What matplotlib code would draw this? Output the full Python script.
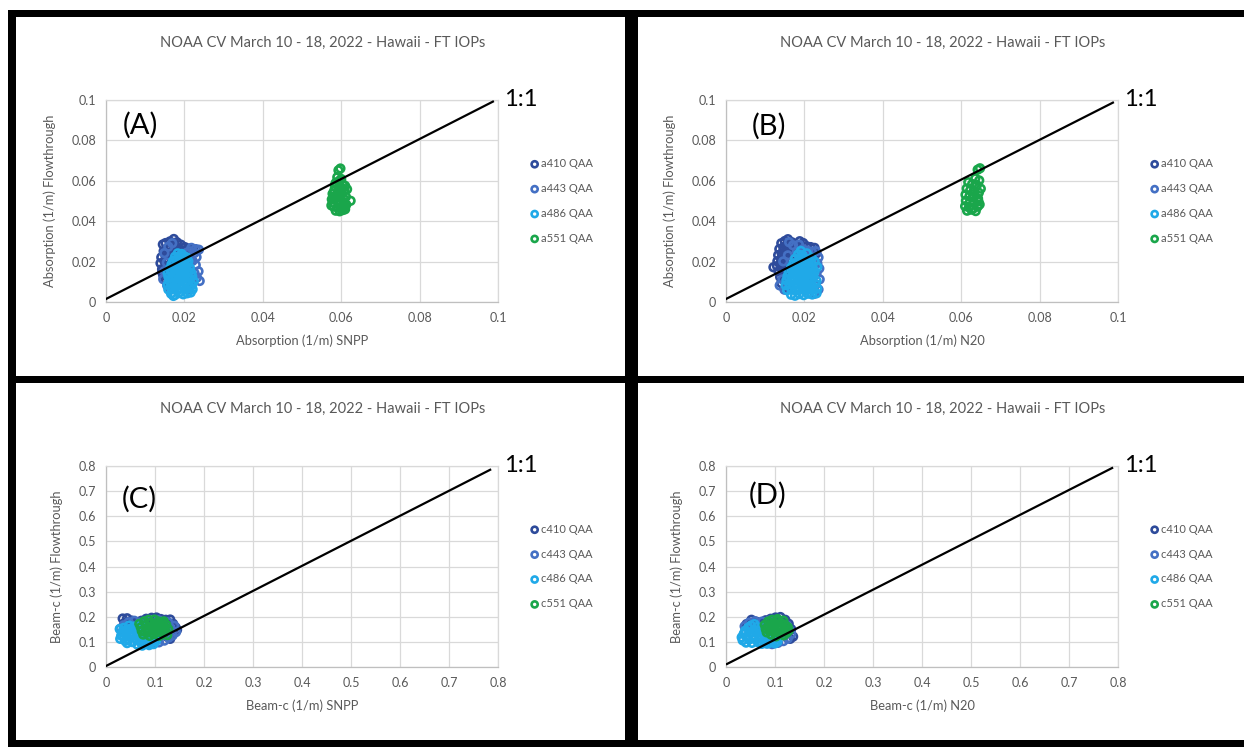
import matplotlib
matplotlib.use("Agg")
import matplotlib.pyplot as plt
from matplotlib.patches import Rectangle

plt.rcParams['font.family'] = ['Lato', 'DejaVu Sans']

TITLE = "NOAA CV March 10 - 18, 2022 - Hawaii - FT IOPs"

# ---------------- data ----------------
A410 = [(0.0145,0.0285),(0.0152,0.0292),(0.0163,0.0300),(0.0173,0.0312),(0.0181,0.0296),(0.0191,0.0284),
        (0.0201,0.0272),(0.0212,0.0265),(0.0222,0.0262),(0.0147,0.0252),(0.0156,0.0262),(0.0166,0.0271),
        (0.0177,0.0276),(0.0187,0.0262),(0.0141,0.0221),(0.0151,0.0233),(0.0161,0.0241),(0.0171,0.0252),
        (0.0182,0.0244),(0.0196,0.0251),(0.0139,0.0192),(0.0149,0.0203),(0.0159,0.0212),(0.0169,0.0223),
        (0.0143,0.0163),(0.0152,0.0174),(0.0161,0.0182),(0.0146,0.0132),(0.0156,0.0141),(0.0166,0.0124),
        (0.0176,0.0203),(0.0186,0.0214),(0.0153,0.0106),(0.0161,0.0092),(0.0171,0.0081),(0.0143,0.0148)]
A443 = [(0.0218,0.0268),(0.0229,0.0262),(0.0237,0.0259),(0.0214,0.0251),(0.0226,0.0243),(0.0231,0.0222),
        (0.0221,0.0204),(0.0229,0.0183),(0.0236,0.0152),(0.0226,0.0142),(0.0232,0.0121),(0.0221,0.0112),
        (0.0239,0.0104),(0.0149,0.0153),(0.0146,0.0113),(0.0156,0.0082),(0.0162,0.0061),(0.0211,0.0062),
        (0.0201,0.0224),(0.0191,0.0233),(0.0169,0.0291),(0.0159,0.0274),(0.0149,0.0242),(0.0212,0.0161),
        (0.0216,0.0091),(0.0206,0.0244),(0.0155,0.0195)]
A486 = [(0.0166,0.0041),(0.0176,0.0035),(0.0186,0.0044),(0.0197,0.0038),(0.0207,0.0043),(0.0216,0.0047),(0.0172,0.0030),
        (0.0159,0.0062),(0.0169,0.0067),(0.0181,0.0059),(0.0191,0.0066),(0.0202,0.0061),(0.0212,0.0068),(0.0221,0.0063),
        (0.0157,0.0085),(0.0167,0.0089),(0.0178,0.0081),(0.0189,0.0087),(0.0198,0.0083),(0.0209,0.0090),(0.0219,0.0084),
        (0.0161,0.0104),(0.0171,0.0109),(0.0182,0.0102),(0.0192,0.0108),(0.0203,0.0101),(0.0213,0.0107),(0.0224,0.0103),
        (0.0159,0.0126),(0.0168,0.0121),(0.0179,0.0128),(0.0190,0.0123),(0.0201,0.0129),(0.0211,0.0122),(0.0220,0.0127),
        (0.0157,0.0145),(0.0167,0.0149),(0.0177,0.0142),(0.0188,0.0147),(0.0199,0.0141),(0.0208,0.0148),(0.0218,0.0143),
        (0.0163,0.0164),(0.0174,0.0168),(0.0184,0.0161),(0.0195,0.0167),(0.0205,0.0162),(0.0214,0.0169),
        (0.0167,0.0186),(0.0178,0.0181),(0.0188,0.0188),(0.0198,0.0182),(0.0208,0.0187),
        (0.0171,0.0203),(0.0181,0.0208),(0.0191,0.0201),(0.0201,0.0207),(0.0210,0.0202),
        (0.0176,0.0224),(0.0186,0.0221),(0.0196,0.0227),(0.0205,0.0222),(0.0183,0.0241),(0.0193,0.0238)]
A551 = [(0.0593,0.0652),(0.0598,0.0661),(0.0590,0.0618),(0.0600,0.0609),(0.0587,0.0592),(0.0596,0.0601),
        (0.0604,0.0583),(0.0584,0.0571),(0.0594,0.0568),(0.0603,0.0562),(0.0582,0.0551),(0.0592,0.0543),
        (0.0601,0.0539),(0.0608,0.0552),(0.0580,0.0522),(0.0590,0.0518),(0.0599,0.0524),(0.0607,0.0511),
        (0.0579,0.0492),(0.0589,0.0501),(0.0598,0.0489),(0.0606,0.0494),(0.0624,0.0501),(0.0581,0.0472),
        (0.0591,0.0468),(0.0600,0.0461),(0.0608,0.0473),(0.0586,0.0452),(0.0596,0.0449),(0.0604,0.0455),
        (0.0612,0.0521),(0.0575,0.0478),(0.0576,0.0508),(0.0578,0.0536),(0.0613,0.0482),(0.0615,0.0558),
        (0.0610,0.0459),(0.0585,0.0585),(0.0610,0.0575)]

B410 = [(0.0141,0.0291),(0.0150,0.0302),(0.0158,0.0311),(0.0168,0.0296),(0.0178,0.0287),(0.0188,0.0301),
        (0.0197,0.0292),(0.0206,0.0276),(0.0216,0.0272),(0.0226,0.0268),(0.0136,0.0262),(0.0146,0.0271),
        (0.0156,0.0282),(0.0166,0.0268),(0.0176,0.0261),(0.0186,0.0272),(0.0133,0.0232),(0.0142,0.0241),
        (0.0152,0.0252),(0.0162,0.0243),(0.0172,0.0236),(0.0131,0.0202),(0.0140,0.0213),(0.0150,0.0222),
        (0.0160,0.0212),(0.0121,0.0172),(0.0130,0.0178),(0.0139,0.0183),(0.0149,0.0191),(0.0134,0.0152),
        (0.0143,0.0161),(0.0138,0.0124),(0.0147,0.0133),(0.0141,0.0093),(0.0151,0.0102),(0.0156,0.0072),
        (0.0231,0.0241)]
B443 = [(0.0196,0.0261),(0.0207,0.0254),(0.0219,0.0249),(0.0229,0.0252),(0.0236,0.0221),(0.0233,0.0192),
        (0.0238,0.0166),(0.0231,0.0141),(0.0239,0.0112),(0.0228,0.0084),(0.0236,0.0062),(0.0226,0.0041),
        (0.0144,0.0112),(0.0137,0.0082),(0.0149,0.0061),(0.0161,0.0296),(0.0171,0.0281),(0.0181,0.0251),
        (0.0158,0.0231),(0.0146,0.0201),(0.0211,0.0186),(0.0191,0.0241),(0.0221,0.0121),(0.0186,0.0284)]
B486 = [(0.0166,0.0036),(0.0176,0.0031),(0.0187,0.0039),(0.0198,0.0034),(0.0209,0.0041),(0.0220,0.0037),(0.0231,0.0043),
        (0.0156,0.0058),(0.0167,0.0064),(0.0178,0.0057),(0.0189,0.0063),(0.0200,0.0059),(0.0211,0.0065),(0.0222,0.0060),(0.0233,0.0066),
        (0.0152,0.0083),(0.0162,0.0088),(0.0173,0.0081),(0.0184,0.0087),(0.0195,0.0082),(0.0206,0.0089),(0.0217,0.0084),(0.0228,0.0090),
        (0.0154,0.0107),(0.0165,0.0103),(0.0176,0.0109),(0.0187,0.0102),(0.0198,0.0108),(0.0209,0.0104),(0.0220,0.0110),(0.0231,0.0105),
        (0.0157,0.0128),(0.0168,0.0124),(0.0179,0.0130),(0.0190,0.0123),(0.0201,0.0129),(0.0212,0.0125),(0.0223,0.0131),
        (0.0160,0.0149),(0.0171,0.0145),(0.0182,0.0151),(0.0193,0.0144),(0.0204,0.0150),(0.0215,0.0146),(0.0226,0.0152),
        (0.0166,0.0171),(0.0177,0.0166),(0.0188,0.0172),(0.0199,0.0167),(0.0210,0.0173),(0.0221,0.0168),(0.0233,0.0174),
        (0.0172,0.0192),(0.0183,0.0188),(0.0194,0.0194),(0.0205,0.0189),(0.0216,0.0195),(0.0226,0.0201),
        (0.0176,0.0214),(0.0187,0.0210),(0.0198,0.0216),(0.0209,0.0211),(0.0219,0.0218),
        (0.0184,0.0236),(0.0195,0.0232),(0.0206,0.0241),(0.0191,0.0253)]
B551 = [(0.0642,0.0655),(0.0648,0.0662),(0.0636,0.0612),(0.0646,0.0602),(0.0618,0.0593),(0.0628,0.0584),
        (0.0640,0.0578),(0.0650,0.0561),(0.0614,0.0562),(0.0623,0.0553),(0.0634,0.0548),(0.0645,0.0541),
        (0.0611,0.0531),(0.0621,0.0524),(0.0632,0.0518),(0.0643,0.0512),(0.0612,0.0501),(0.0622,0.0494),
        (0.0633,0.0489),(0.0644,0.0498),(0.0610,0.0474),(0.0620,0.0469),(0.0631,0.0463),(0.0642,0.0472),
        (0.0615,0.0452),(0.0626,0.0457),(0.0637,0.0450),(0.0647,0.0483),(0.0630,0.0533)]

C410 = [(0.034,0.193),(0.043,0.194),(0.052,0.185),(0.061,0.178),(0.072,0.184),(0.082,0.192),(0.093,0.196),
        (0.103,0.197),(0.112,0.191),(0.122,0.188),(0.131,0.189),(0.137,0.172),(0.142,0.158),(0.145,0.148),
        (0.128,0.165),(0.118,0.176),(0.038,0.176),(0.048,0.168),(0.056,0.158),(0.131,0.112),(0.124,0.121),
        (0.066,0.171)]
C443 = [(0.029,0.152),(0.036,0.166),(0.046,0.178),(0.058,0.184),(0.069,0.176),(0.088,0.183),(0.107,0.186),
        (0.127,0.178),(0.139,0.164),(0.143,0.139),(0.136,0.126),(0.128,0.117),(0.119,0.105),(0.108,0.098),
        (0.097,0.093),(0.086,0.096),(0.076,0.101),(0.116,0.129),(0.124,0.144),(0.061,0.142),(0.131,0.156),
        (0.101,0.111)]
C486 = [(0.028,0.151),(0.033,0.139),(0.031,0.125),(0.029,0.112),(0.037,0.117),(0.036,0.156),(0.041,0.145),
        (0.042,0.131),(0.045,0.108),(0.047,0.165),(0.049,0.152),(0.051,0.121),(0.053,0.138),(0.054,0.099),
        (0.057,0.161),(0.059,0.147),(0.061,0.112),(0.062,0.127),(0.064,0.089),(0.066,0.153),(0.068,0.139),
        (0.069,0.102),(0.071,0.118),(0.073,0.167),(0.074,0.085),(0.076,0.132),(0.078,0.148),(0.079,0.108),
        (0.082,0.095),(0.083,0.121),(0.086,0.138),(0.088,0.087),(0.089,0.112),(0.092,0.101),(0.094,0.125),
        (0.097,0.091),(0.099,0.114),(0.102,0.103),(0.043,0.095),(0.039,0.104)]
C551 = [(0.068,0.172),(0.071,0.158),(0.073,0.143),(0.076,0.129),(0.078,0.182),(0.081,0.167),(0.083,0.152),
        (0.085,0.137),(0.087,0.188),(0.089,0.124),(0.091,0.175),(0.093,0.161),(0.095,0.146),(0.097,0.131),
        (0.099,0.189),(0.101,0.169),(0.103,0.154),(0.105,0.139),(0.107,0.181),(0.109,0.124),(0.111,0.163),
        (0.113,0.148),(0.115,0.175),(0.117,0.133),(0.119,0.157),(0.121,0.142),(0.123,0.168),(0.125,0.127),
        (0.127,0.151),(0.086,0.146),(0.098,0.158),(0.110,0.142),(0.080,0.139),(0.118,0.182)]

D410 = [(0.052,0.188),(0.061,0.181),(0.071,0.177),(0.081,0.186),(0.091,0.192),(0.101,0.197),(0.111,0.199),
        (0.121,0.188),(0.128,0.172),(0.133,0.151),(0.137,0.121),(0.131,0.112),(0.042,0.171),(0.047,0.158),
        (0.117,0.174),(0.124,0.138),(0.066,0.168),(0.056,0.175)]
D443 = [(0.038,0.162),(0.047,0.176),(0.059,0.182),(0.074,0.181),(0.088,0.184),(0.106,0.186),(0.124,0.166),
        (0.133,0.131),(0.126,0.113),(0.117,0.103),(0.106,0.096),(0.094,0.091),(0.082,0.094),(0.129,0.148),
        (0.112,0.126),(0.065,0.151),(0.121,0.154)]
D486 = [(0.032,0.118),(0.034,0.106),(0.036,0.131),(0.039,0.144),(0.041,0.097),(0.043,0.122),(0.045,0.156),
        (0.047,0.109),(0.049,0.136),(0.051,0.165),(0.053,0.096),(0.055,0.123),(0.057,0.148),(0.059,0.111),
        (0.061,0.137),(0.063,0.159),(0.065,0.099),(0.067,0.124),(0.069,0.146),(0.071,0.112),(0.073,0.092),
        (0.075,0.134),(0.077,0.162),(0.079,0.119),(0.081,0.104),(0.083,0.141),(0.085,0.093),(0.087,0.127),
        (0.089,0.112),(0.091,0.098),(0.094,0.121),(0.097,0.106),(0.100,0.094),(0.103,0.113),(0.105,0.101),
        (0.038,0.138),(0.058,0.171)]
D551 = [(0.079,0.168),(0.081,0.152),(0.083,0.138),(0.086,0.181),(0.088,0.161),(0.090,0.145),(0.092,0.129),
        (0.094,0.188),(0.096,0.172),(0.098,0.156),(0.100,0.139),(0.102,0.122),(0.104,0.183),(0.106,0.165),
        (0.108,0.149),(0.110,0.133),(0.112,0.176),(0.114,0.158),(0.116,0.142),(0.118,0.126),(0.120,0.168),
        (0.122,0.151),(0.124,0.136),(0.126,0.159),(0.128,0.145),(0.105,0.191),(0.093,0.154),(0.110,0.160),
        (0.099,0.147),(0.117,0.185)]

# 1:1 reference line end points
A_line = ([0.0, 0.0987], [0.0015, 0.0992])
B_line = ([0.0, 0.0987], [0.0015, 0.0987])
C_line = ([0.0, 0.784], [0.004, 0.785])
D_line = ([0.002, 0.788], [0.012, 0.792])

abs_ticks = [0, 0.02, 0.04, 0.06, 0.08, 0.1]
abs_tick_labels = ["0", "0.02", "0.04", "0.06", "0.08", "0.1"]
bc_ticks = [0, 0.1, 0.2, 0.3, 0.4, 0.5, 0.6, 0.7, 0.8]
bc_tick_labels = ["0", "0.1", "0.2", "0.3", "0.4", "0.5", "0.6", "0.7", "0.8"]

a_labels = ["a410 QAA", "a443 QAA", "a486 QAA", "a551 QAA"]
c_labels = ["c410 QAA", "c443 QAA", "c486 QAA", "c551 QAA"]
COLORS = ["#2E4B9B", "#4470C4", "#20A9E8", "#1AA64B"]

# ---------------- figure ----------------
W, H = 1244, 747
fig = plt.figure(figsize=(W / 100, H / 100), dpi=100)
fig.patch.set_facecolor("white")

def px_rect(x0, y0, x1, y1):
    return [x0 / W, 1 - y1 / H, (x1 - x0) / W, (y1 - y0) / H]

# black panel borders
for (x0, y0, x1, y1) in [(8, 10, 1244, 17), (8, 740, 1244, 747), (8, 10, 16, 747),
                         (625, 10, 638, 747), (8, 376, 1244, 383)]:
    fig.patches.append(Rectangle((x0 / W, 1 - y1 / H), (x1 - x0) / W, (y1 - y0) / H,
                                 transform=fig.transFigure, facecolor="black",
                                 edgecolor="none", zorder=10))

GRAY_TXT = "#595959"
GRID = "#D9D9D9"

panels = [
    dict(rect=px_rect(106, 100, 498, 302), series=[A410, A443, A486, A551], line=A_line,
         lim=0.1, ticks=abs_ticks, tlabels=abs_tick_labels, labels=a_labels, tag="(A)", tagpos=(0.087, 0.875),
         xlabel="Absorption (1/m) SNPP", ylabel="Absorption (1/m) Flowthrough"),
    dict(rect=px_rect(726, 100, 1118, 302), series=[B410, B443, B486, B551], line=B_line,
         lim=0.1, ticks=abs_ticks, tlabels=abs_tick_labels, labels=a_labels, tag="(B)", tagpos=(0.11, 0.87),
         xlabel="Absorption (1/m) N20", ylabel="Absorption (1/m) Flowthrough"),
    dict(rect=px_rect(106, 466, 498, 667), series=[C410, C443, C486, C551], line=C_line,
         lim=0.8, ticks=bc_ticks, tlabels=bc_tick_labels, labels=c_labels, tag="(C)", tagpos=(0.085, 0.835),
         xlabel="Beam-c (1/m) SNPP", ylabel="Beam-c (1/m) Flowthrough"),
    dict(rect=px_rect(726, 466, 1118, 667), series=[D410, D443, D486, D551], line=D_line,
         lim=0.8, ticks=bc_ticks, tlabels=bc_tick_labels, labels=c_labels, tag="(D)", tagpos=(0.105, 0.855),
         xlabel="Beam-c (1/m) N20", ylabel="Beam-c (1/m) Flowthrough"),
]

for p in panels:
    ax = fig.add_axes(p["rect"])
    for pts, col, lab in zip(p["series"], COLORS, p["labels"]):
        xs = [q[0] for q in pts]
        ys = [q[1] for q in pts]
        ax.scatter(xs, ys, s=30, facecolors="none", edgecolors=col, linewidths=1.9,
                   label=lab, zorder=3)
    ax.plot(p["line"][0], p["line"][1], color="black", lw=1.6, zorder=5)
    ax.set_xlim(0, p["lim"])
    ax.set_ylim(0, p["lim"])
    ax.set_xticks(p["ticks"])
    ax.set_xticklabels(p["tlabels"])
    ax.set_yticks(p["ticks"])
    ax.set_yticklabels(p["tlabels"])
    ax.grid(True, color=GRID, lw=0.9, zorder=0)
    ax.set_axisbelow(True)
    for s in ax.spines.values():
        s.set_color(GRID)
        s.set_linewidth(0.9)
    ax.spines["bottom"].set_color("#BFBFBF")
    ax.spines["left"].set_color("#BFBFBF")
    ax.tick_params(length=0, labelsize=9, labelcolor=GRAY_TXT, pad=7)
    ax.set_xlabel(p["xlabel"], fontsize=9.3, color=GRAY_TXT, labelpad=8)
    ax.set_ylabel(p["ylabel"], fontsize=9.3, color=GRAY_TXT, labelpad=11)
    ax.set_title(TITLE, fontsize=10.5, color=GRAY_TXT, pad=38, x=0.553)
    ax.text(p["tagpos"][0], p["tagpos"][1], p["tag"], transform=ax.transAxes,
            fontsize=21, color="black", ha="center", va="center")
    ax.text(1.015, 1.0, "1:1", transform=ax.transAxes, fontsize=17, color="black",
            ha="left", va="center", clip_on=False)
    leg = ax.legend(loc="center left", bbox_to_anchor=(1.085, 0.5), frameon=False,
                    fontsize=8, labelspacing=1.25, handlelength=0.6, handletextpad=0.3,
                    borderpad=0, borderaxespad=0, scatterpoints=1, markerscale=0.8)
    for t in leg.get_texts():
        t.set_color(GRAY_TXT)

fig.savefig("out.png", dpi=100, facecolor="white")
